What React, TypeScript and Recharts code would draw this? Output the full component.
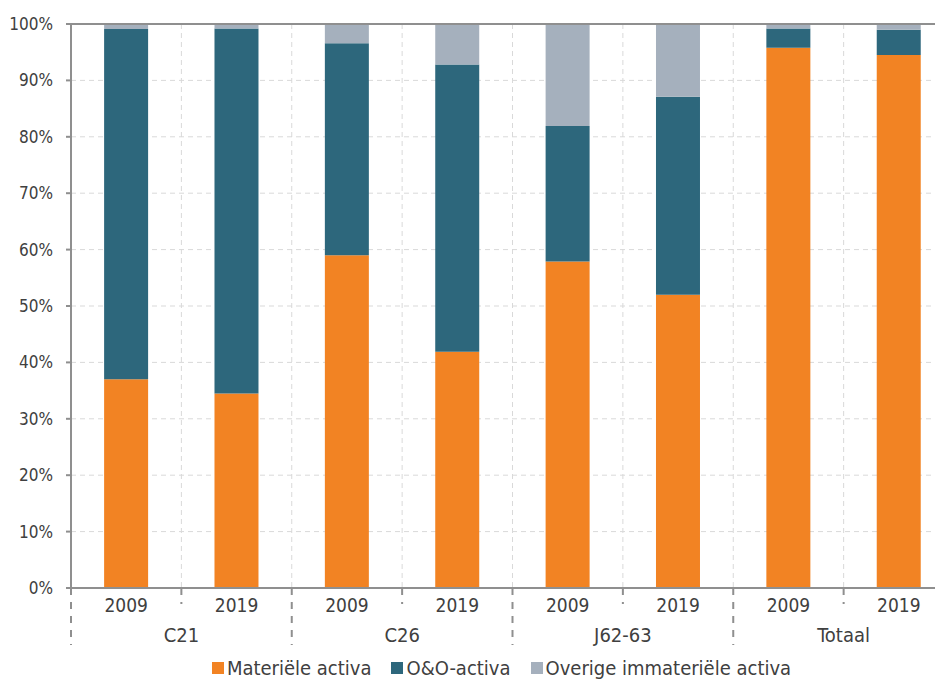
import React from "react";
import {
  BarChart,
  Bar,
  XAxis,
  YAxis,
  CartesianGrid,
  Legend,
  ReferenceLine,
} from "recharts";

const groups = ["C21", "C21", "C26", "C26", "J62-63", "J62-63", "Totaal", "Totaal"];
const years = ["2009", "2019", "2009", "2019", "2009", "2019", "2009", "2019"];
const materieel = [37.0, 34.5, 59.0, 41.9, 57.9, 52.0, 95.8, 94.5];
const oeno = [62.1, 64.7, 37.6, 50.9, 24.0, 35.1, 3.4, 4.5];
const overig = [0.9, 0.8, 3.4, 7.2, 18.1, 12.9, 0.8, 1.0];
const yTicks = [0, 10, 20, 30, 40, 50, 60, 70, 80, 90, 100];

const series = [
  { key: "materieel", name: "Materiële activa", color: "#F28323" },
  { key: "oeno", name: "O&O-activa", color: "#2D677C" },
  { key: "overig", name: "Overige immateriële activa", color: "#A5B0BD" },
];

const data = years.map((year, i) => ({
  id: i,
  year,
  group: groups[i],
  materieel: materieel[i],
  oeno: oeno[i],
  overig: overig[i],
}));

const FONT = "'DejaVu Sans Condensed', 'DejaVu Sans', sans-serif";
const TEXT = "#404040";
const AXIS = "#8f8f8f";

const CHART_W = 950;
const CHART_H = 671;
const Y_AXIS_W = 63;
const RIGHT = 4;
const PLOT_W = CHART_W - Y_AXIS_W - RIGHT;
const BAND = PLOT_W / data.length;

// year label under each bar, group label between its two bars, dashed separators
function YearTick(props: any) {
  const { x, y, payload } = props;
  const i = payload.index;
  const left = x - BAND / 2;
  const startsGroup = i % 2 === 0;
  return (
    <g>
      <line
        x1={left}
        x2={left}
        y1={y}
        y2={startsGroup ? y + 57 : y + 16}
        stroke={AXIS}
        strokeWidth={2}
        strokeDasharray="7 7"
      />
      {i === data.length - 1 && (
        <line
          x1={x + BAND / 2}
          x2={x + BAND / 2}
          y1={y}
          y2={y + 57}
          stroke={AXIS}
          strokeWidth={2}
          strokeDasharray="7 7"
        />
      )}
      <text
        x={x}
        y={y + 24}
        textAnchor="middle"
        fill={TEXT}
        fontSize={19}
        fontFamily={FONT}
      >
        {payload.value}
      </text>
      {!startsGroup && (
        <text
          x={left}
          y={y + 54}
          textAnchor="middle"
          fill={TEXT}
          fontSize={20}
          fontFamily={FONT}
        >
          {data[i].group}
        </text>
      )}
    </g>
  );
}

function LegendContent() {
  return (
    <div
      style={{
        display: "flex",
        justifyContent: "center",
        alignItems: "center",
        height: 22,
        paddingLeft: 37,
        fontFamily: FONT,
        fontSize: 20,
        color: TEXT,
        whiteSpace: "nowrap",
      }}
    >
      {series.map((s) => (
        <span
          key={s.key}
          style={{ display: "inline-flex", alignItems: "center", margin: "0 10px" }}
        >
          <span
            style={{
              display: "inline-block",
              width: 12,
              height: 12,
              background: s.color,
              marginRight: 3,
            }}
          />
          {s.name}
        </span>
      ))}
    </div>
  );
}

export default function App() {
  return (
    <div style={{ width: 935, height: CHART_H, overflow: "hidden" }}>
      <BarChart
        width={CHART_W}
        height={CHART_H}
        data={data}
        margin={{ top: 16, right: RIGHT, bottom: 0, left: 0 }}
        barCategoryGap="30%"
      >
        <CartesianGrid
          stroke="#d9d9d9"
          strokeDasharray="5 4"
          verticalCoordinatesGenerator={({ offset }: any) =>
            data.slice(1).map((_, i) => offset.left + (i + 1) * (offset.width / data.length))
          }
        />
        <XAxis
          dataKey="year"
          interval={0}
          tickLine={false}
          tickSize={0}
          tickMargin={0}
          axisLine={{ stroke: AXIS, strokeWidth: 2 }}
          height={69}
          tick={<YearTick />}
        />
        <YAxis
          width={Y_AXIS_W}
          domain={[0, 100]}
          ticks={yTicks}
          tickFormatter={(v: number) => `${v}%`}
          axisLine={{ stroke: AXIS, strokeWidth: 2 }}
          tickLine={{ stroke: AXIS, strokeWidth: 2 }}
          tickSize={5}
          tickMargin={13}
          tick={{ fill: TEXT, fontSize: 17, fontFamily: FONT }}
        />
        <ReferenceLine y={100} stroke={AXIS} strokeWidth={2} />
        {series.map((s) => (
          <Bar
            key={s.key}
            dataKey={s.key}
            name={s.name}
            stackId="a"
            fill={s.color}
            isAnimationActive={false}
          />
        ))}
        <Legend
          verticalAlign="bottom"
          wrapperStyle={{ left: 0, width: CHART_W }}
          content={<LegendContent />}
        />
      </BarChart>
    </div>
  );
}
